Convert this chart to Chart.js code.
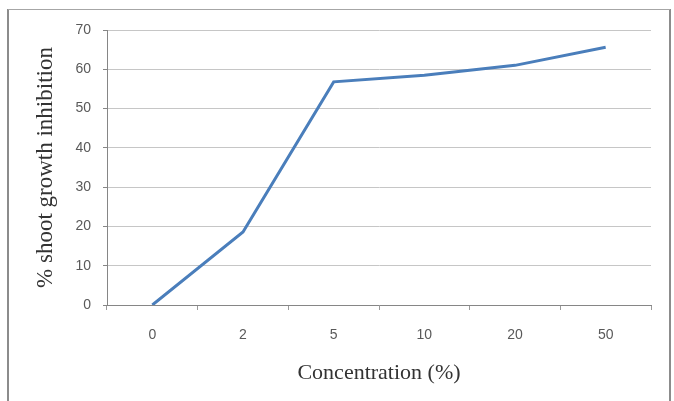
<!DOCTYPE html>
<html>
<head>
<meta charset="utf-8">
<script src="https://cdn.jsdelivr.net/npm/chart.js@4"></script>
<style>
  html, body { margin: 0; padding: 0; background: #fff; }
  #wrap { width: 674px; height: 401px; position: relative; }
</style>
</head>
<body>
<div id="wrap"><canvas id="shootChart"></canvas></div>
<script>
// ==============================
// DATA
// ==============================
const concentrations = ["0", "2", "5", "10", "20", "50"];
const inhibition     = [0, 18.6, 56.8, 58.5, 61, 65.6];
const yTicks         = [0, 10, 20, 30, 40, 50, 60, 70];

// ==============================
// FRAME (outer border of the picture)
// ==============================
const framePlugin = {
    id: "frame",
    beforeDraw(chart){
        const c = chart.ctx;
        c.save();
        c.fillStyle = "#ffffff";
        c.fillRect(0, 0, chart.width, chart.height);
        c.strokeStyle = "#8c8c8c";
        c.lineWidth = 2;
        c.beginPath();
        c.moveTo(8, 9); c.lineTo(8, chart.height);
        c.moveTo(670, 9); c.lineTo(670, chart.height);
        c.stroke();
        c.strokeStyle = "#a6a6a6";
        c.lineWidth = 1;
        c.beginPath();
        c.moveTo(8, 9.5); c.lineTo(670, 9.5);
        c.stroke();
        c.restore();
    }
};

// ==============================
// CHART
// ==============================
const ctx = document.getElementById("shootChart").getContext("2d");

new Chart(ctx, {
    type: "line",
    data: {
        labels: concentrations,
        datasets: [{
            data: inhibition,
            borderColor: "#4a7ebb",
            borderWidth: 3,
            pointRadius: 0,
            tension: 0,
            fill: false
        }]
    },
    options: {
        responsive: true,
        maintainAspectRatio: false,
        animation: false,
        layout: { padding: { left: 0, right: 23, top: 30, bottom: 0 } },
        plugins: {
            legend: { display: false },
            tooltip: { enabled: false }
        },
        scales: {
            x: {
                offset: true,
                afterFit(scale){ scale.height = 96; },
                grid: {
                    offset: true,
                    drawOnChartArea: false,
                    drawTicks: true,
                    tickLength: 5,
                    color: "#9a9a9a"
                },
                border: { display: true, color: "#868686", width: 1 },
                ticks: {
                    padding: 17,
                    color: "#595959",
                    font: { family: "'Liberation Sans', Arial, sans-serif", size: 14 }
                },
                title: {
                    display: true,
                    text: "Concentration (%)",
                    color: "#333333",
                    padding: { top: 0, bottom: 15 },
                    font: { family: "'Liberation Serif', 'Times New Roman', serif", size: 22 }
                }
            },
            y: {
                min: 0,
                max: 70,
                afterFit(scale){ scale.width = 107; },
                afterBuildTicks(scale){ scale.ticks = yTicks.map(v => ({ value: v })); },
                grid: {
                    color: "#c6c6c6",
                    tickColor: "#868686",
                    tickLength: 4
                },
                border: { display: true, color: "#868686", width: 1 },
                ticks: {
                    padding: 12,
                    color: "#595959",
                    font: { family: "'Liberation Sans', Arial, sans-serif", size: 14 }
                },
                title: {
                    display: true,
                    text: "% shoot growth inhibition",
                    color: "#333333",
                    padding: { top: 32, bottom: 0 },
                    font: { family: "'Liberation Serif', 'Times New Roman', serif", size: 23 }
                }
            }
        }
    },
    plugins: [framePlugin]
});
</script>
</body>
</html>
